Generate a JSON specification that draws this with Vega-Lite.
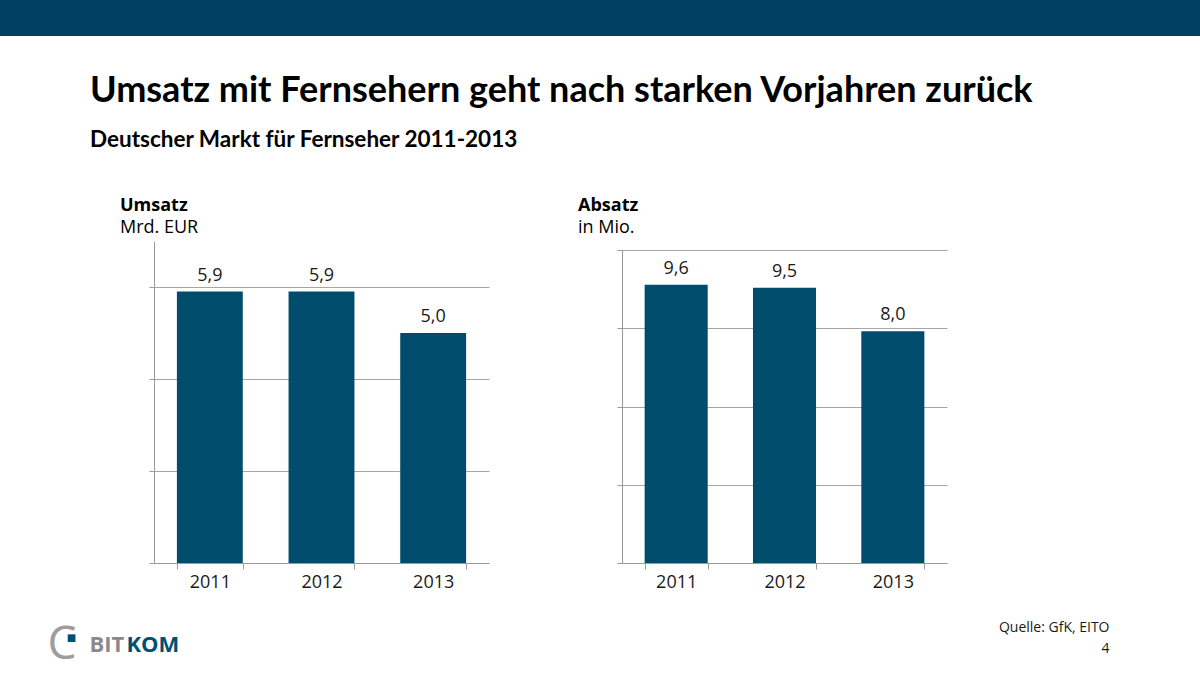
{
  "$schema": "https://vega.github.io/schema/vega-lite/v6.json",
  "padding": 0,
  "background": "white",
  "spacing": 36,
  "config": {
    "font": "Open Sans",
    "view": {"stroke": null},
    "locale": {"number": {"decimal": ",", "thousands": ".", "grouping": [3], "currency": ["", " €"]}},
    "title": {"font": "Open Sans", "subtitleFont": "Open Sans", "color": "#000000", "subtitleColor": "#000000", "anchor": "start"},
    "axis": {"titleFont": "Open Sans", "labelFont": "Open Sans"}
  },
  "datasets": {
    "umsatz": [
      {"Jahr": "2011", "Wert": 5.9},
      {"Jahr": "2012", "Wert": 5.9},
      {"Jahr": "2013", "Wert": 5.0}
    ],
    "absatz": [
      {"Jahr": "2011", "Wert": 9.6},
      {"Jahr": "2012", "Wert": 9.5},
      {"Jahr": "2013", "Wert": 8.0}
    ]
  },
  "vconcat": [
    {
      "width": 1200,
      "height": 36,
      "view": {"fill": "#003f5f", "stroke": null},
      "data": {"values": [{}]},
      "mark": {"type": "text"},
      "encoding": {"text": {"value": ""}}
    },
    {
      "title": {
        "text": "Umsatz mit Fernsehern geht nach starken Vorjahren zurück",
        "subtitle": "Deutscher Markt für Fernseher 2011-2013",
        "anchor": "start",
        "frame": "group",
        "dx": 90,
        "font": "Lato",
        "subtitleFont": "Lato",
        "fontSize": 36,
        "fontWeight": "bold",
        "subtitleFontSize": 22.5,
        "subtitleFontWeight": "bold",
        "subtitlePadding": 19,
        "offset": 45
      },
      "spacing": 0,
      "hconcat": [
        {
          "width": 489,
          "height": 322,
          "title": {
            "text": "Umsatz",
            "subtitle": "Mrd. EUR",
            "anchor": "start",
            "frame": "group",
            "dx": 120,
            "fontSize": 18,
            "fontWeight": "bold",
            "subtitleFontSize": 18,
            "subtitleFontWeight": "normal",
            "subtitlePadding": 4,
            "offset": 4
          },
          "data": {"name": "umsatz"},
          "resolve": {"scale": {"x": "independent", "y": "independent"}, "axis": {"x": "independent", "y": "independent"}},
          "layer": [
            {
              "mark": {"type": "bar", "color": "#004c6d"},
              "encoding": {
                "x": {
                  "field": "Jahr", "type": "ordinal",
                  "scale": {"range": [154, 489], "paddingInner": 0.41, "paddingOuter": 0.205},
                  "axis": {
                    "labelAngle": 0, "labelFontSize": 18, "labelColor": "#1a1a1a", "labelPadding": 4,
                    "tickBand": "extent", "tickSize": 6, "tickColor": "#9a9a9a", "domainColor": "#9a9a9a",
                    "grid": false,
                    "title": "KOM", "titleX": 126, "titleY": 88, "titleAlign": "left", "titleBaseline": "alphabetic",
                    "titleFontSize": 22, "titleFontWeight": "bold", "titleColor": "#005073"
                  }
                },
                "y": {
                  "field": "Wert", "type": "quantitative",
                  "scale": {"domain": [0, 7], "nice": false},
                  "axis": {
                    "offset": -154, "values": [0, 2, 4, 6], "labels": false,
                    "tickSize": 5, "tickColor": "#9a9a9a", "domainColor": "#9a9a9a",
                    "grid": true, "gridColor": "#a6a6a6",
                    "title": "BIT", "titleAngle": 0, "titleX": -65, "titleY": 410, "titleAlign": "left", "titleBaseline": "alphabetic",
                    "titleFontSize": 22, "titleFontWeight": "bold", "titleColor": "#8a8a8a"
                  }
                }
              }
            },
            {
              "mark": {"type": "text", "dy": -11, "baseline": "alphabetic", "fontSize": 18, "color": "#1a1a1a"},
              "encoding": {
                "x": {
                  "field": "Jahr", "type": "ordinal",
                  "scale": {"range": [154, 489], "paddingInner": 0.41, "paddingOuter": 0.205},
                  "axis": {
                    "orient": "top", "domain": false, "ticks": false, "labels": false, "grid": false,
                    "title": "■", "titleX": 71, "titleY": 399, "titleAlign": "center", "titleBaseline": "alphabetic",
                    "titleFont": "DejaVu Sans", "titleFontSize": 10, "titleColor": "#005073"
                  }
                },
                "y": {
                  "field": "Wert", "type": "quantitative",
                  "scale": {"domain": [0, 7], "nice": false},
                  "axis": {
                    "orient": "right", "domain": false, "ticks": false, "labels": false, "grid": false,
                    "title": "C", "titleAngle": 0, "titleX": -442, "titleY": 417, "titleAlign": "left", "titleBaseline": "alphabetic",
                    "titleFontSize": 46, "titleFontWeight": "normal", "titleColor": "#9d9d9d"
                  }
                },
                "text": {"field": "Wert", "type": "quantitative", "format": ".1f"}
              }
            }
          ]
        },
        {
          "width": 458,
          "height": 322,
          "title": {
            "text": "Absatz",
            "subtitle": "in Mio.",
            "anchor": "start",
            "frame": "group",
            "dx": 89,
            "fontSize": 18,
            "fontWeight": "bold",
            "subtitleFontSize": 18,
            "subtitleFontWeight": "normal",
            "subtitlePadding": 4,
            "offset": 4
          },
          "data": {"name": "absatz"},
          "encoding": {
            "x": {
              "field": "Jahr", "type": "ordinal",
              "scale": {"range": [133, 458], "paddingInner": 0.418, "paddingOuter": 0.209},
              "axis": {
                "labelAngle": 0, "labelFontSize": 18, "labelColor": "#1a1a1a", "labelPadding": 4,
                "tickBand": "extent", "tickSize": 6, "tickColor": "#9a9a9a", "domainColor": "#9a9a9a",
                "grid": false,
                "title": "Quelle: GfK, EITO", "titleX": 620, "titleY": 68, "titleAlign": "right", "titleBaseline": "alphabetic",
                "titleFontSize": 14, "titleFontWeight": "normal", "titleColor": "#1a1a1a"
              }
            },
            "y": {
              "field": "Wert", "type": "quantitative",
              "scale": {"domain": [0, 10.8], "nice": false, "range": [322, 9]},
              "axis": {
                "offset": -133, "values": [0, 2.7, 5.4, 8.1, 10.8], "labels": false,
                "tickSize": 5, "tickColor": "#9a9a9a", "domainColor": "#9a9a9a",
                "grid": true, "gridColor": "#a6a6a6",
                "title": "4", "titleAngle": 0, "titleX": 487, "titleY": 411, "titleAlign": "right", "titleBaseline": "alphabetic",
                "titleFontSize": 14, "titleFontWeight": "normal", "titleColor": "#1a1a1a"
              }
            }
          },
          "layer": [
            {"mark": {"type": "bar", "color": "#004c6d"}},
            {
              "mark": {"type": "text", "dy": -11, "baseline": "alphabetic", "fontSize": 18, "color": "#1a1a1a"},
              "encoding": {"text": {"field": "Wert", "type": "quantitative", "format": ".1f"}}
            }
          ]
        }
      ]
    }
  ]
}
